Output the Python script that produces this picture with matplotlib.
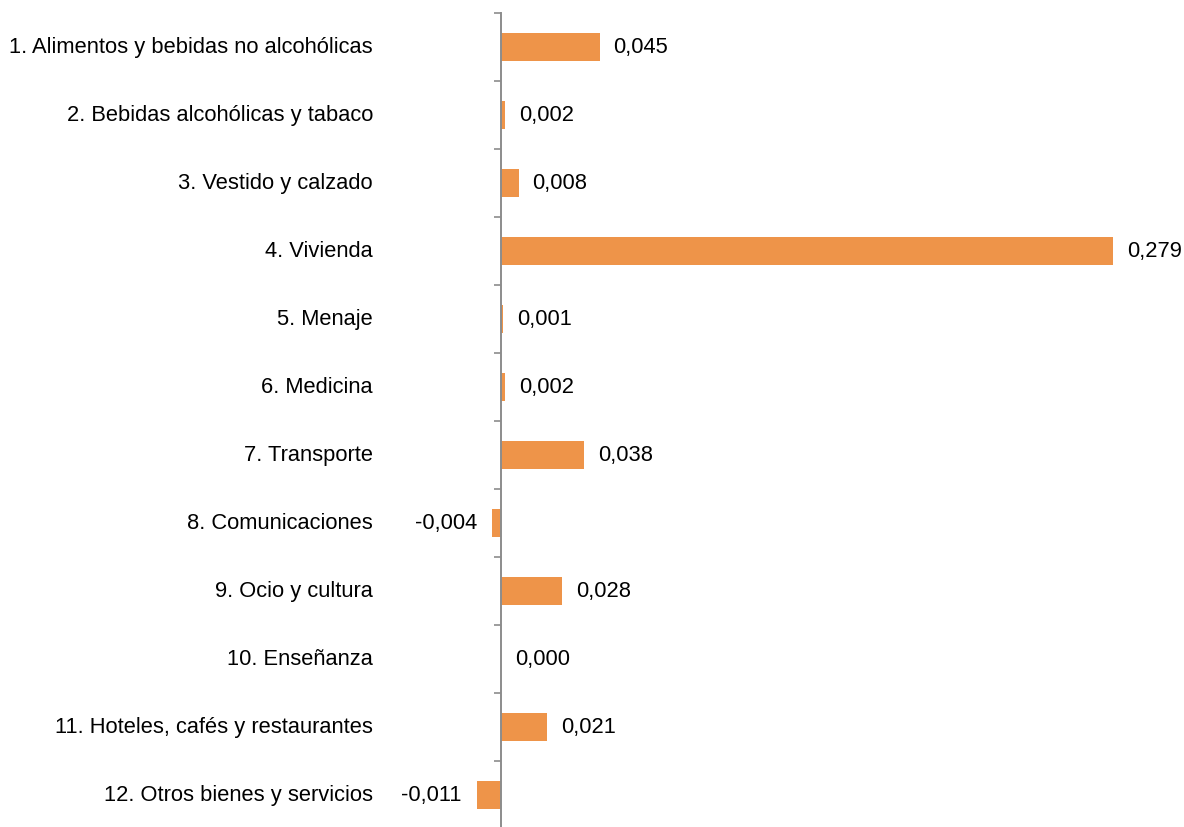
import matplotlib.pyplot as plt
from matplotlib.ticker import FixedLocator

plt.rcParams["font.family"] = ["Liberation Sans", "DejaVu Sans"]

categories = [
    "1. Alimentos y bebidas no alcohólicas",
    "2. Bebidas alcohólicas y tabaco",
    "3. Vestido y calzado",
    "4. Vivienda",
    "5. Menaje",
    "6. Medicina",
    "7. Transporte",
    "8. Comunicaciones",
    "9. Ocio y cultura",
    "10. Enseñanza",
    "11. Hoteles, cafés y restaurantes",
    "12. Otros bienes y servicios",
]
values = [0.045, 0.002, 0.008, 0.279, 0.001, 0.002, 0.038, -0.004, 0.028, 0.000, 0.021, -0.011]

bar_color = "#EE9449"
axis_color = "#8C8C8C"
W, H = 1184, 827

fig = plt.figure(figsize=(W / 100, H / 100), dpi=100)
# axes box in pixels: left 380, right 1184, top 13, bottom 829
ax = fig.add_axes([380 / W, (H - 829) / H, (W - 380) / W, 816 / H])

ypos = list(range(len(categories)))
ax.barh(ypos, values, height=0.42, color=bar_color)

px_per_unit = 2193.0
ax.set_xlim((380 - 501) / px_per_unit, (W - 501) / px_per_unit)
ax.set_ylim(len(categories) - 0.5, -0.5)

for s in ["top", "right", "bottom"]:
    ax.spines[s].set_visible(False)
ax.spines["left"].set_position(("data", 0))
ax.spines["left"].set_color(axis_color)
ax.spines["left"].set_linewidth(1.4)

ax.set_xticks([])
ax.yaxis.set_major_locator(FixedLocator([i - 0.5 for i in range(len(categories) + 1)]))
ax.tick_params(axis="y", direction="out", length=5, width=1.2, color=axis_color,
               labelleft=False)

for y, name in zip(ypos, categories):
    ax.text(-7 / (W - 380), y, name, transform=ax.get_yaxis_transform(),
            ha="right", va="center", fontsize=15.75, color="black")

for y, v in zip(ypos, values):
    label = f"{v:.3f}".replace(".", ",")
    if v < 0:
        ax.annotate(label, (v, y), xytext=(-11, 0), textcoords="offset points",
                    ha="right", va="center", fontsize=15.75)
    else:
        ax.annotate(label, (v, y), xytext=(10, 0), textcoords="offset points",
                    ha="left", va="center", fontsize=15.75)

fig.savefig("out.png", dpi=100)
